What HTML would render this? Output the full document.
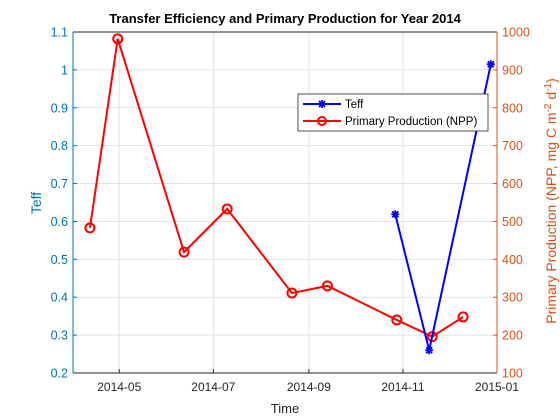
<!DOCTYPE html>
<html><head><meta charset="utf-8"><style>
body{margin:0;background:#fff;}
svg{display:block;font-family:"Liberation Sans",Arial,sans-serif;}
</style></head><body>
<svg id="chart" width="560" height="420" viewBox="0 0 560 420">
<rect width="560" height="420" fill="#fff"/>
<g id="grid"></g>
<g id="axes"></g>
<g id="series"></g>
<text x="285" y="23" text-anchor="middle" font-size="13" font-weight="bold" fill="#000">Transfer Efficiency and Primary Production for Year 2014</text>
<text x="285" y="413" text-anchor="middle" font-size="13" fill="#262626">Time</text>
<text transform="translate(41,203) rotate(-90)" text-anchor="middle" font-size="14" fill="#0072BD">Teff</text>
<text transform="translate(556,201) rotate(-90)" text-anchor="middle" font-size="14" fill="#D95319">Primary Production (NPP, mg C m<tspan dy="-5" font-size="10">-2</tspan><tspan dy="5"> d</tspan><tspan dy="-5" font-size="10">-1</tspan><tspan dy="5">)</tspan></text>
<g>
<rect x="298" y="94" width="190" height="37" fill="#fff" stroke="#262626" stroke-width="0.8"/>
<g>
<line x1="303" y1="104" x2="341" y2="104" stroke="#0000FF" stroke-width="2"/>
<path d="M322 100v8M318 104h8M319 101l6 6M325 101l-6 6" stroke="#0000FF" stroke-width="1.8"/>
<text x="345" y="108" font-size="11.5" fill="#000">Teff</text>
</g>
<g>
<line x1="303" y1="121" x2="341" y2="121" stroke="#FF0000" stroke-width="2"/>
<circle cx="322" cy="121" r="4" fill="none" stroke="#FF0000" stroke-width="2"/>
<text x="345" y="125" font-size="11.5" fill="#000">Primary Production (NPP)</text>
</g>
</g>
</svg>
<script>
const nppDates=["2014-04-12","2014-04-30","2014-06-12","2014-07-10","2014-08-21","2014-09-13","2014-10-28","2014-11-20","2014-12-10"];
const nppValues=[483,982,419,533,311,330,240,196,248];
const teffDates=["2014-10-27","2014-11-18","2014-12-28"];
const teffValues=[0.619,0.26,1.015];
const xTickLabels=["2014-05","2014-07","2014-09","2014-11","2015-01"];
const leftTicks=[0.2,0.3,0.4,0.5,0.6,0.7,0.8,0.9,1,1.1];
const rightTicks=[100,200,300,400,500,600,700,800,900,1000];

const L=73,R=497,T=32,B=373;
const x0=Date.UTC(2014,3,1),x1=Date.UTC(2015,0,1);
function xs(d){const p=d.split('-').map(Number);const t=Date.UTC(p[0],p[1]-1,p[2]||1);return L+(t-x0)/(x1-x0)*(R-L);}
function yl(v){return B-(v-0.2)/0.9*(B-T);}
function yr(v){return B-(v-100)/900*(B-T);}
const NS="http://www.w3.org/2000/svg";
function mk(tag,attrs,parent,txt){const e=document.createElementNS(NS,tag);for(const k in attrs)e.setAttribute(k,attrs[k]);if(txt!==undefined)e.textContent=txt;parent.appendChild(e);return e;}
const grid=document.getElementById('grid'),axes=document.getElementById('axes'),ser=document.getElementById('series');
xTickLabels.forEach(lbl=>{
 const x=xs(lbl);
 const g=mk('line',{x1:x,x2:x,y1:T,y2:B,stroke:'#dfe3e8','stroke-width':1},grid);
 
 
 const t=mk('line',{x1:x,x2:x,y1:B,y2:B-4,stroke:'#262626'},axes);
 
 
 const tx=mk('text',{x:x,y:B+18,'text-anchor':'middle','font-size':12,fill:'#262626'},axes,lbl);
 
 
});
leftTicks.forEach(v=>{
 const y=yl(v);
 const g=mk('line',{x1:L,x2:R,y1:y,y2:y,stroke:'#dfe3e8','stroke-width':1},grid);
 
 
 const t=mk('line',{x1:L,x2:L+4,y1:y,y2:y,stroke:'#0072BD'},axes);
 
 
 const tx=mk('text',{x:L-5,y:y+4.5,'text-anchor':'end','font-size':12.5,fill:'#0072BD'},axes,String(v));
 
 
});
rightTicks.forEach(v=>{
 const y=yr(v);
 const t=mk('line',{x1:R,x2:R-4,y1:y,y2:y,stroke:'#D95319'},axes);
 
 
 const tx=mk('text',{x:R+5,y:y+4.5,'font-size':12.5,fill:'#D95319'},axes,String(v));
 
 
});
const topLine=mk('line',{x1:L,x2:R,y1:T,y2:T,stroke:'#262626'},axes);


const botLine=mk('line',{x1:L,x2:R,y1:B,y2:B,stroke:'#262626'},axes);


const leftLine=mk('line',{x1:L,x2:L,y1:T,y2:B,stroke:'#0072BD'},axes);


const rightLine=mk('line',{x1:R,x2:R,y1:T,y2:B,stroke:'#D95319'},axes);



const np=nppDates.map((d,i)=>xs(d)+','+yr(nppValues[i])).join(' ');
const nl=mk('polyline',{points:np,fill:'none',stroke:'#FF0000','stroke-width':2},ser);


nppDates.forEach((d,i)=>{
 const c=mk('circle',{cx:xs(d),cy:yr(nppValues[i]),r:4.5,fill:'none',stroke:'#FF0000','stroke-width':2},ser);
 
 
});
const tp=teffDates.map((d,i)=>xs(d)+','+yl(teffValues[i])).join(' ');
const tl=mk('polyline',{points:tp,fill:'none',stroke:'#0000FF','stroke-width':2},ser);


teffDates.forEach((d,i)=>{
 const cx=xs(d),cy=yl(teffValues[i]);
 const m=mk('path',{d:`M${cx} ${cy-4}v8M${cx-4} ${cy}h8M${cx-3} ${cy-3}l6 6M${cx+3} ${cy-3}l-6 6`,stroke:'#0000FF','stroke-width':1.8,fill:'none'},ser);
 
 
});
</script>
</body></html>
